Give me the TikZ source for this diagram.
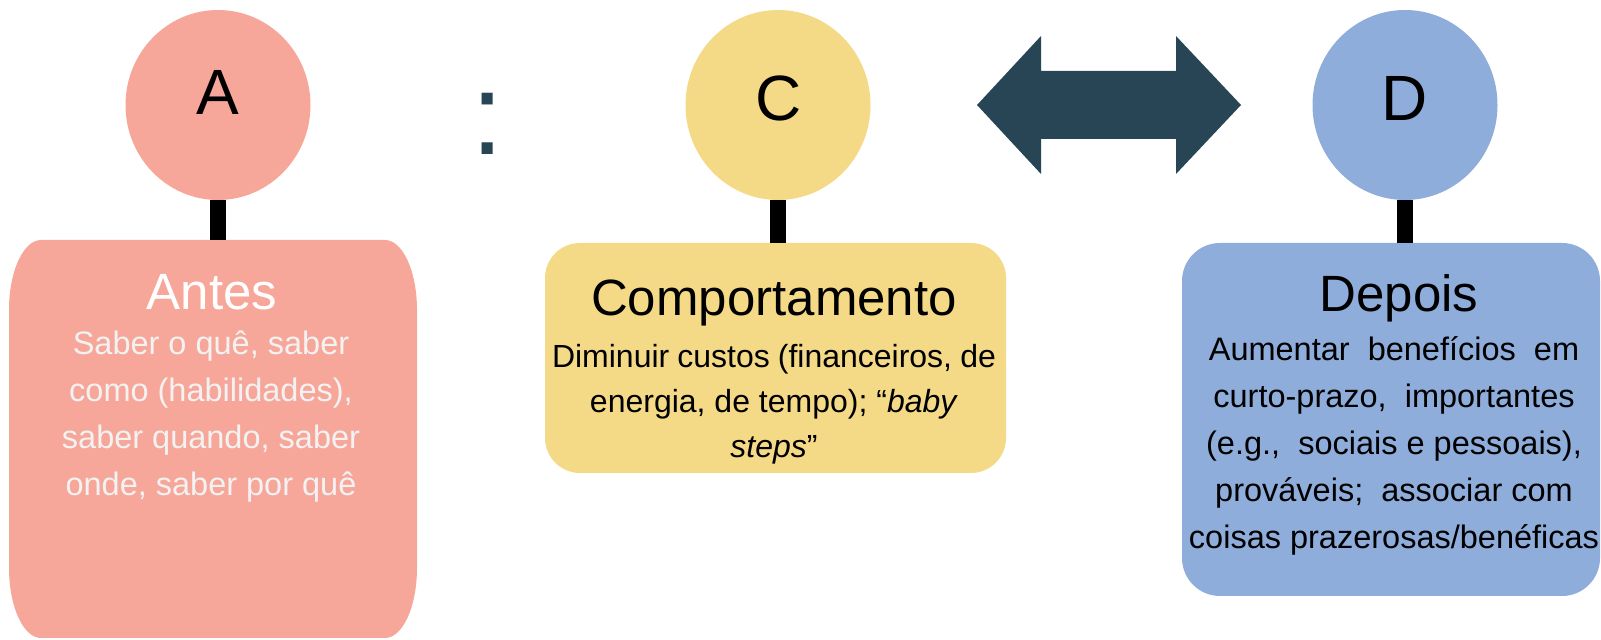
\documentclass[tikz,border=0pt]{standalone}
\usepackage{fontspec}
\setmainfont{Liberation Sans}
\usetikzlibrary{shapes.geometric}
\definecolor{salmon}{HTML}{F7A79A}
\definecolor{sand}{HTML}{F4DA87}
\definecolor{skyb}{HTML}{8EADDB}
\definecolor{slate}{HTML}{284555}
\definecolor{paleg}{HTML}{F2F2F2}
\begin{document}
\begin{tikzpicture}[x=0.5pt,y=-0.5pt,
  circ/.style={ellipse, minimum width=92.5pt, minimum height=95pt, inner sep=0pt},
  letter/.style={anchor=base, inner sep=0pt, font=\fontsize{32}{36}\selectfont},
  ttl/.style={anchor=base, inner sep=0pt, font=\fontsize{25.5}{30}\selectfont},
  bodyt/.style={anchor=base, inner sep=0pt, font=\fontsize{16.25}{23.5}\selectfont},
  stemline/.style={line width=8pt, black},
  boxshape/.style={rectangle, inner sep=0pt}
]
\useasboundingbox (0,0) rectangle (1601,640);

% ---------- A ----------
\node[circ, fill=salmon] (cA) at (218,105) {};
\node[letter] (lA) at (218,115) {A};
\fill[salmon] (9,310) .. controls (9,271.4) and (23.3,240) .. (41,240)
  -- (385,240) .. controls (402.7,240) and (417,271.4) .. (417,310)
  -- (417,568) .. controls (417,606.6) and (402.7,638) .. (385,638)
  -- (41,638) .. controls (23.3,638) and (9,606.6) .. (9,568) -- cycle;
\coordinate (topA) at (218,240);
\draw[stemline] (cA.south) -- (topA);
\node[ttl, text=white] (tA) at (212,310) {Antes};
\node[bodyt, text=paleg] (bA) at (211,355) {\begin{tabular}[t]{@{}c@{}}Saber o quê, saber\\ como (habilidades),\\ saber quando, saber\\ onde, saber por quê\end{tabular}};

% ---------- colon ----------
\node[anchor=base, inner sep=0pt, text=slate, font=\fontsize{58}{60}\selectfont] (colon) at (488,155) {:};

% ---------- C ----------
\node[circ, fill=sand] (cC) at (778,105) {};
\node[letter] (lC) at (779,121) {C};
\node[boxshape, fill=sand, rounded corners=17.5pt, minimum width=230.5pt, minimum height=115pt] (bxC) at (775.5,358) {};
\draw[stemline] (cC.south) -- (cC.south |- bxC.north);
\node[ttl] (tC) at (774,316) {Comportamento};
\node[anchor=base, inner sep=0pt, font=\fontsize{16}{22.5}\selectfont] (bC) at (774,368) {\begin{tabular}[t]{@{}c@{}}\makebox[222pt][s]{Diminuir custos (financeiros, de}\\ energia, de tempo); “\textit{baby}\\ \textit{steps}”\end{tabular}};

% ---------- arrow ----------
\fill[slate] (977,105) -- (1041,36) -- (1041,71) -- (1176,71) -- (1176,36) -- (1241,105)
  -- (1176,174) -- (1176,139) -- (1041,139) -- (1041,174) -- cycle;

% ---------- D ----------
\node[circ, fill=skyb] (cD) at (1405,105) {};
\node[letter] (lD) at (1405,121) {D};
\node[boxshape, fill=skyb, rounded corners=19pt, minimum width=209pt, minimum height=176.5pt] (bxD) at (1391,419.5) {};
\draw[stemline] (cD.south) -- (cD.south |- bxD.north);
\node[ttl] (tD) at (1399,312) {Depois};
\node[bodyt] (bD) at (1394,361) {\begin{tabular}[t]{@{}c@{}}Aumentar\ \ benefícios\ \ em\\ curto-prazo,\ \ importantes\\ (e.g.,\ \ sociais e pessoais),\\ prováveis;\ \ associar com\\ coisas prazerosas/benéficas\end{tabular}};
\end{tikzpicture}
\end{document}
